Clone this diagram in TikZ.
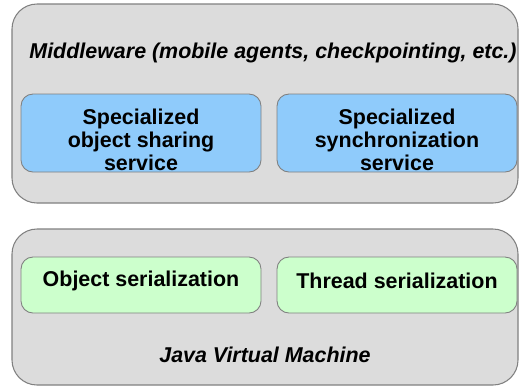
\documentclass[tikz,border=0pt]{standalone}
\usepackage{fontspec}
\setmainfont{Liberation Sans}
\usepackage{xcolor}
\definecolor{layergray}{HTML}{DCDCDC}
\definecolor{edgegray}{HTML}{808080}
\definecolor{serviceblue}{HTML}{8FCBFB}
\definecolor{serialgreen}{HTML}{CCFFCC}

\begin{document}
\begin{tikzpicture}[x=0.02cm,y=-0.02cm]
\tikzset{
  layer/.style={draw=edgegray, fill=layergray, line width=0.6pt, rounded corners=0.5cm},
  module/.style={draw=edgegray, line width=0.5pt, rounded corners=0.24cm},
  label/.style={font=\fontsize{12.2}{13.1}\selectfont\bfseries, align=center, inner sep=0pt},
  title/.style={font=\fontsize{12.2}{13.1}\selectfont\bfseries\itshape, inner sep=0pt}
}
\useasboundingbox (0,0) rectangle (520,387);

% Middleware layer
\draw[layer] (12,4) rectangle (518,203);
\node[title] (mw) at (273,53) {Middleware (mobile agents, checkpointing, etc.)};

\draw[module, fill=serviceblue] (21,94) rectangle (261,172);
\draw[module, fill=serviceblue] (277,94) rectangle (517,172);
\node[label] (share) at (141,140) {Specialized\\object sharing\\service};
\node[label] (sync) at (397,140) {Specialized\\synchronization\\service};

% JVM layer
\draw[layer] (12,229) rectangle (518,385);
\draw[module, fill=serialgreen] (21,257) rectangle (261,313);
\draw[module, fill=serialgreen] (277,257) rectangle (517,313);
\node[label] (objser) at (141,281) {Object serialization};
\node[label] (thrser) at (397,281) {Thread serialization};
\node[title] (jvm) at (265,355) {Java Virtual Machine};
\end{tikzpicture}
\end{document}
